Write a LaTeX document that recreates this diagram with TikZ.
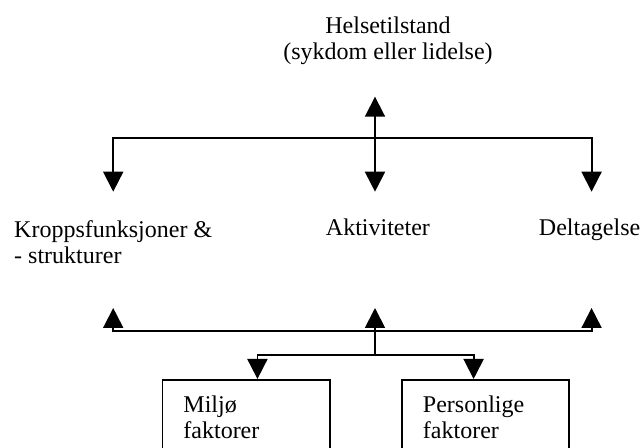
\documentclass[tikz,border=0pt]{standalone}
\usepackage{fontspec}
\setmainfont{Liberation Serif}
\usetikzlibrary{arrows.meta}

\tikzset{
  lbl/.style={inner sep=0pt, font=\fontsize{18}{19.5}\selectfont},
  fbox/.style={lbl, draw, anchor=north west, text width=94pt, inner xsep=15.75pt, inner ysep=12pt, align=left},
}

\begin{document}
\begin{tikzpicture}[x=0.75pt, y=-0.75pt, line width=1.4pt, >={Triangle[width=15pt,length=15pt]}]
  \useasboundingbox (0,0) rectangle (642,448);
  \clip (0,0) rectangle (642,448);
  % labels
  \node[lbl, anchor=north, align=center] (helse) at (388,15.8) {Helsetilstand\\(sykdom eller lidelse)};
  \node[lbl, anchor=north west, align=left] (kropp) at (13.3,219.3) {Kroppsfunksjoner \&\\- strukturer};
  \node[lbl, anchor=base west] (akt) at (325,235.5) {Aktiviteter};
  \node[lbl, anchor=base west] (delt) at (538,235.5) {Deltagelse};
  \node[fbox] (miljo) at (161.5,379) {Miljø\\faktorer};
  \node[fbox] (pers) at (401,379) {Personlige\\faktorer};
  % levels of the arrow tips
  \coordinate (hub1) at (375,138.3);
  \coordinate (hub2) at (375,355);
  \coordinate (bus2) at (375,331);
  \coordinate (row0) at (0,96.7);
  \coordinate (row1) at (0,191.7);
  \coordinate (row2) at (0,308);
  % upper tree
  \draw [<->] (hub1 |- row0) -- (hub1 |- row1);
  \draw [->] (hub1) -| (kropp.north |- row1);
  \draw [->] (hub1) -| ([xshift=1.5pt]delt.north |- row1);
  % lower tree
  \draw [->] (hub2) -- (hub2 |- row2);
  \draw [->] (bus2) -| (kropp.south |- row2);
  \draw [->] (bus2) -| ([xshift=1.5pt]delt.south |- row2);
  \draw [->] (hub2) -| ([xshift=8.5pt]miljo.north);
  \draw [->] (hub2) -| ([xshift=-9pt]pers.north);
\end{tikzpicture}
\end{document}
